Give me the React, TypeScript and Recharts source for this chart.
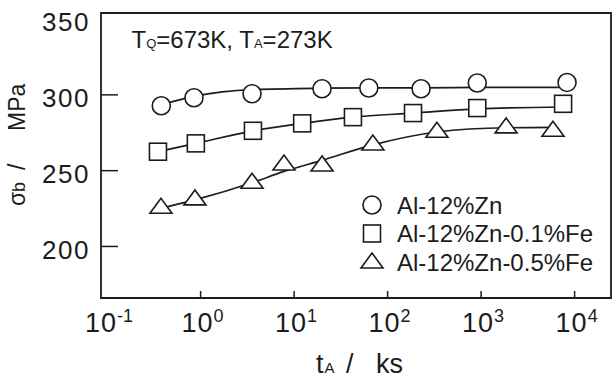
import React from 'react';
import { ComposedChart, Line, XAxis, YAxis, ReferenceArea } from 'recharts';

const seriesNames = ['Al-12%Zn', 'Al-12%Zn-0.1%Fe', 'Al-12%Zn-0.5%Fe'];

// ageing time t_A (ks) and tensile strength σb (MPa)
const circleTimes = [0.38, 0.85, 3.55, 19.9, 63, 228, 910, 8300];
const circleStrength = [292.8, 298.1, 300.7, 304.0, 304.5, 304.0, 307.8, 308.2];
const circleCurve = [293.5, 299.0, 303.5, 304.4, 304.6, 304.6, 304.9, 305.0];

const squareTimes = [0.35, 0.89, 3.63, 12.2, 42.6, 187, 910, 7530];
const squareStrength = [262.5, 268.0, 276.3, 281.2, 285.3, 288.0, 291.3, 294.1];
const squareCurve = [262.5, 268.0, 276.3, 281.2, 285.3, 288.0, 290.8, 292.0];

const triangleTimes = [0.377, 0.87, 3.55, 7.8, 19.9, 69.6, 337, 1850, 5870];
const triangleStrength = [225.2, 230.7, 241.7, 253.7, 253.1, 266.9, 275.3, 278.2, 276.0];
const triangleCurve = [225.2, 230.7, 242.0, 249.5, 256.8, 267.0, 275.5, 278.3, 278.5];

const xDomain = [0.0861, 24500];
const xTicks = [0.1, 1, 10, 100, 1000, 10000];
const xTickExponents = ['-1', '0', '1', '2', '3', '4'];
const yDomain = [166, 354];
const yTicks = [200, 250, 300, 350];
const yTickLabels = ['200', '250', '300', '350'];

const FONT = '"Liberation Sans", Arial, Helvetica, sans-serif';
const INK = '#1c1c1c';

const zip = (ts: number[], vs: number[]) => ts.map((t, i) => ({ t, v: vs[i] }));

const circleData = zip(circleTimes, circleStrength);
const circleLine = zip(circleTimes, circleCurve);
const squareData = zip(squareTimes, squareStrength);
const squareLine = zip(squareTimes, squareCurve);
const triangleData = zip(triangleTimes, triangleStrength);
const triangleLine = zip(triangleTimes, triangleCurve);

const CircleShape = ({ cx, cy }: { cx: number; cy: number }) => (
  <circle cx={cx} cy={cy} r={9} fill="#fff" stroke={INK} strokeWidth={1.6} />
);
const SquareShape = ({ cx, cy }: { cx: number; cy: number }) => (
  <rect x={cx - 8.5} y={cy - 8.5} width={17} height={17} fill="#fff" stroke={INK} strokeWidth={1.6} />
);
const TriangleShape = ({ cx, cy }: { cx: number; cy: number }) => (
  <polygon
    points={`${cx},${cy - 10} ${cx - 11},${cy + 5} ${cx + 11},${cy + 5}`}
    fill="#fff"
    stroke={INK}
    strokeWidth={1.6}
    strokeLinejoin="miter"
  />
);

const markerDot = (Shape: any, prefix: string) => (p: any) => {
  if (p.cx == null || p.cy == null) return <g key={`${prefix}-${p.index}`} />;
  return (
    <g key={`${prefix}-${p.index}`}>
      <Shape cx={p.cx} cy={p.cy} />
    </g>
  );
};

const XTick = (props: any) => {
  const { x, y, payload } = props;
  const idx = xTicks.indexOf(payload.value);
  const exp = xTickExponents[idx];
  return (
    <g>
      {idx > 0 && <line x1={x} x2={x} y1={y} y2={y - 7} stroke={INK} strokeWidth={1.5} />}
      <text x={x + 2} y={y + 33.5} textAnchor="middle" fontFamily={FONT} fontSize={27} letterSpacing={1} fill={INK}>
        10
        <tspan fontSize={18} dy={-9.5} letterSpacing={0}>
          {exp}
        </tspan>
      </text>
    </g>
  );
};

const YTick = (props: any) => {
  const { x, y, payload } = props;
  const idx = yTicks.indexOf(payload.value);
  return (
    <g>
      {payload.value < 350 && <line x1={x} x2={x + 17} y1={y} y2={y} stroke={INK} strokeWidth={1.5} />}
      <text x={x - 11} y={y + 12.4} textAnchor="end" fontFamily={FONT} fontSize={26} letterSpacing={1.5} fill={INK}>
        {yTickLabels[idx]}
      </text>
    </g>
  );
};

const legendShapes = [CircleShape, SquareShape, TriangleShape];

const LegendBlock = () => (
  <g>
    {seriesNames.map((name, i) => {
      const S = legendShapes[i];
      const cy = 205 + 28.5 * i;
      return (
        <g key={name}>
          <S cx={372} cy={i === 2 ? cy + 1 : cy} />
          <text x={397} y={cy + 8.5} fontFamily={FONT} fontSize={24} fill={INK}>
            {name}
          </text>
        </g>
      );
    })}
  </g>
);

export default function App() {
  return (
    <div style={{ position: 'absolute', left: 0, top: 0, width: 613, height: 378, background: '#fff' }}>
      <ComposedChart width={613} height={378} margin={{ top: 13, right: 2, bottom: 0, left: 0 }}>
        <XAxis
          dataKey="t"
          type="number"
          scale="log"
          domain={xDomain}
          ticks={xTicks}
          interval={0}
          allowDataOverflow
          axisLine={false}
          tickLine={false}
          tickSize={0}
          tickMargin={0}
          height={80}
          tick={XTick}
        />
        <YAxis
          type="number"
          domain={yDomain}
          ticks={yTicks}
          interval={0}
          allowDataOverflow
          axisLine={false}
          tickLine={false}
          tickSize={0}
          tickMargin={0}
          width={101}
          tick={YTick}
        />
        <ReferenceArea
          x1={xDomain[0]}
          x2={xDomain[1]}
          y1={yDomain[0]}
          y2={yDomain[1]}
          fill="none"
          fillOpacity={0}
          stroke={INK}
          strokeWidth={1.8}
          ifOverflow="visible"
        />
        <Line data={circleLine} dataKey="v" type="monotone" stroke={INK} strokeWidth={1.7} dot={false} activeDot={false} isAnimationActive={false} />
        <Line data={squareLine} dataKey="v" type="monotone" stroke={INK} strokeWidth={1.7} dot={false} activeDot={false} isAnimationActive={false} />
        <Line data={triangleLine} dataKey="v" type="monotone" stroke={INK} strokeWidth={1.7} dot={false} activeDot={false} isAnimationActive={false} />
        <Line data={circleData} dataKey="v" name={seriesNames[0]} stroke="none" dot={markerDot(CircleShape, 'c')} activeDot={false} isAnimationActive={false} />
        <Line data={squareData} dataKey="v" name={seriesNames[1]} stroke="none" dot={markerDot(SquareShape, 's')} activeDot={false} isAnimationActive={false} />
        <Line data={triangleData} dataKey="v" name={seriesNames[2]} stroke="none" dot={markerDot(TriangleShape, 'tr')} activeDot={false} isAnimationActive={false} />
        <LegendBlock />
        <text x={131.5} y={48} fontFamily={FONT} fontSize={24} fill={INK}>
          T<tspan fontSize={13}>Q</tspan>=673K, T<tspan fontSize={13}>A</tspan>=273K
        </text>
        <text y={373} fontFamily={FONT} fontSize={27} fill={INK}>
          <tspan x={316}>t</tspan>
          <tspan x={324.5} fontSize={15}>A</tspan>
          <tspan x={346}>/</tspan>
          <tspan x={376}>ks</tspan>
        </text>
        <text transform="rotate(-90)" y={25} fontFamily={FONT} fontSize={23} fill={INK}>
          <tspan x={-206}>σ</tspan>
          <tspan x={-192} fontSize={18}>b</tspan>
          <tspan x={-170}>/</tspan>
          <tspan x={-131}>MPa</tspan>
        </text>
      </ComposedChart>
    </div>
  );
}
